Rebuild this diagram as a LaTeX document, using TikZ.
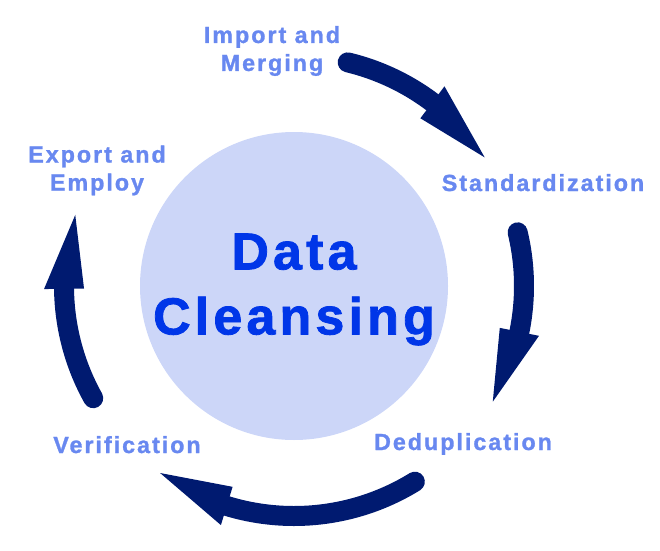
\documentclass[tikz,border=0pt]{standalone}
\usepackage{fontspec}
\usepackage{tikz}
\usetikzlibrary{calc,positioning}
\newfontfamily\labelfont{Liberation Sans}[LetterSpace=8.5,FakeBold=1.2]
\newfontfamily\titlefont{Liberation Sans}[LetterSpace=8,FakeBold=1.5]
\definecolor{dcNavy}    {RGB}{0,   26, 112}
\definecolor{dcLabel}   {RGB}{104, 136, 240}
\definecolor{dcTitle}   {RGB}{0,   54, 232}
\definecolor{dcDisc}    {RGB}{204, 214, 248}

\begin{document}
\begin{tikzpicture}[x=1pt,y=1pt,
    steplabel/.style={font=\labelfont\bfseries\fontsize{23.3}{28}\selectfont,
      dcLabel,align=center,inner sep=0pt},
    cyclearrow/.style={dcNavy,line width=20pt,line cap=round}]
        \useasboundingbox (0,0) rectangle (660,550);
        % Kreis
        \node[circle,fill=dcDisc,minimum size=308pt,inner sep=0pt] (hub) at (294,264) {};
        \node[font=\titlefont\bfseries\fontsize{52}{65}\selectfont,dcTitle,
          align=center,inner sep=0pt] (title) at ([yshift=-3.5pt]hub.center)
          {Data\\Cleansing};
        % Schritte
        \node[steplabel] (import) at (272,499) {Import and\\Merging};
        \node[steplabel,anchor=base] (standard) at (543,359) {Standardization};
        \node[steplabel,anchor=base] (dedup) at (463,100) {Deduplication};
        \node[steplabel,anchor=base] (verify) at (127,97) {Verification};
        \node[steplabel] (export) at (97,379.5) {Export and\\Employ};
        % Pfeile
        \foreach \s/\b/\t in {76.5/53/34, 13.5/-11.5/-30.2,
                              -58.3/-107/-125.6, 209.2/180.7/162}{
          \draw[cyclearrow] ($(hub.center)+(\s:230pt)$)
            arc[start angle=\s, end angle=\b-1, radius=230pt];
          \fill[dcNavy] ($(hub.center)+(\b:210pt)$) -- ($(hub.center)+(\t:230pt)$)
            -- ($(hub.center)+(\b:250pt)$) -- cycle;
        }
      \end{tikzpicture}
\end{document}
